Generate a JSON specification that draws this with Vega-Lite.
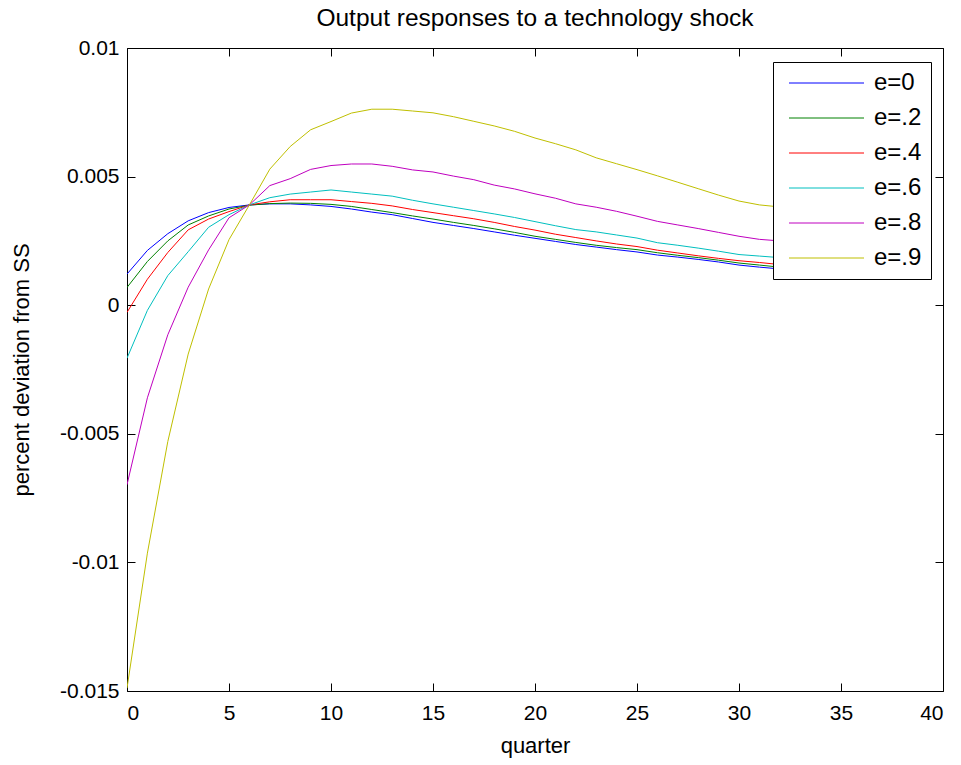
{
  "$schema": "https://vega.github.io/schema/vega-lite/v6.json",
  "width": 816,
  "height": 643,
  "autosize": {"type": "none"},
  "padding": {"left": 127, "top": 48, "right": 18, "bottom": 74},
  "background": "white",
  "config": {
    "font": "Liberation Sans",
    "view": {"stroke": "black", "strokeWidth": 1},
    "axis": {"grid": false, "domain": false, "tickColor": "black", "tickSize": -8, "tickWidth": 1,
      "labelFont": "Liberation Sans", "labelFontSize": 21, "labelColor": "black",
      "titleFont": "Liberation Sans", "titleFontSize": 22, "titleFontWeight": "normal", "titleColor": "black"}
  },
  "title": {"text": "Output responses to a technology shock", "fontSize": 24.5, "fontWeight": "normal", "font": "Liberation Sans", "color": "black", "anchor": "middle", "offset": 6},
  "data": {"values": [
    {"q":0,"y":0.00121,"e":"e=0"},{"q":1,"y":0.00213,"e":"e=0"},{"q":2,"y":0.00278,"e":"e=0"},{"q":3,"y":0.00328,"e":"e=0"},{"q":4,"y":0.00360,"e":"e=0"},{"q":5,"y":0.00380,"e":"e=0"},{"q":6,"y":0.00390,"e":"e=0"},{"q":7,"y":0.00394,"e":"e=0"},{"q":8,"y":0.00394,"e":"e=0"},{"q":9,"y":0.00390,"e":"e=0"},{"q":10,"y":0.00384,"e":"e=0"},{"q":11,"y":0.00374,"e":"e=0"},{"q":12,"y":0.00362,"e":"e=0"},{"q":13,"y":0.00352,"e":"e=0"},{"q":14,"y":0.00337,"e":"e=0"},{"q":15,"y":0.00322,"e":"e=0"},{"q":16,"y":0.00310,"e":"e=0"},{"q":17,"y":0.00298,"e":"e=0"},{"q":18,"y":0.00285,"e":"e=0"},{"q":19,"y":0.00272,"e":"e=0"},{"q":20,"y":0.00260,"e":"e=0"},{"q":21,"y":0.00248,"e":"e=0"},{"q":22,"y":0.00236,"e":"e=0"},{"q":23,"y":0.00226,"e":"e=0"},{"q":24,"y":0.00216,"e":"e=0"},{"q":25,"y":0.00207,"e":"e=0"},{"q":26,"y":0.00195,"e":"e=0"},{"q":27,"y":0.00187,"e":"e=0"},{"q":28,"y":0.00178,"e":"e=0"},{"q":29,"y":0.00168,"e":"e=0"},{"q":30,"y":0.00156,"e":"e=0"},{"q":31,"y":0.00148,"e":"e=0"},{"q":32,"y":0.00141,"e":"e=0"},{"q":33,"y":0.00134,"e":"e=0"},
    {"q":0,"y":0.00069,"e":"e=.2"},{"q":1,"y":0.00170,"e":"e=.2"},{"q":2,"y":0.00250,"e":"e=.2"},{"q":3,"y":0.00312,"e":"e=.2"},{"q":4,"y":0.00347,"e":"e=.2"},{"q":5,"y":0.00374,"e":"e=.2"},{"q":6,"y":0.00389,"e":"e=.2"},{"q":7,"y":0.00395,"e":"e=.2"},{"q":8,"y":0.00397,"e":"e=.2"},{"q":9,"y":0.00396,"e":"e=.2"},{"q":10,"y":0.00392,"e":"e=.2"},{"q":11,"y":0.00384,"e":"e=.2"},{"q":12,"y":0.00372,"e":"e=.2"},{"q":13,"y":0.00360,"e":"e=.2"},{"q":14,"y":0.00347,"e":"e=.2"},{"q":15,"y":0.00335,"e":"e=.2"},{"q":16,"y":0.00322,"e":"e=.2"},{"q":17,"y":0.00310,"e":"e=.2"},{"q":18,"y":0.00297,"e":"e=.2"},{"q":19,"y":0.00283,"e":"e=.2"},{"q":20,"y":0.00268,"e":"e=.2"},{"q":21,"y":0.00256,"e":"e=.2"},{"q":22,"y":0.00244,"e":"e=.2"},{"q":23,"y":0.00233,"e":"e=.2"},{"q":24,"y":0.00224,"e":"e=.2"},{"q":25,"y":0.00216,"e":"e=.2"},{"q":26,"y":0.00204,"e":"e=.2"},{"q":27,"y":0.00194,"e":"e=.2"},{"q":28,"y":0.00185,"e":"e=.2"},{"q":29,"y":0.00175,"e":"e=.2"},{"q":30,"y":0.00164,"e":"e=.2"},{"q":31,"y":0.00156,"e":"e=.2"},{"q":32,"y":0.00148,"e":"e=.2"},{"q":33,"y":0.00141,"e":"e=.2"},
    {"q":0,"y":-0.00028,"e":"e=.4"},{"q":1,"y":0.00101,"e":"e=.4"},{"q":2,"y":0.00205,"e":"e=.4"},{"q":3,"y":0.00293,"e":"e=.4"},{"q":4,"y":0.00335,"e":"e=.4"},{"q":5,"y":0.00364,"e":"e=.4"},{"q":6,"y":0.00390,"e":"e=.4"},{"q":7,"y":0.00402,"e":"e=.4"},{"q":8,"y":0.00410,"e":"e=.4"},{"q":9,"y":0.00410,"e":"e=.4"},{"q":10,"y":0.00410,"e":"e=.4"},{"q":11,"y":0.00403,"e":"e=.4"},{"q":12,"y":0.00396,"e":"e=.4"},{"q":13,"y":0.00386,"e":"e=.4"},{"q":14,"y":0.00372,"e":"e=.4"},{"q":15,"y":0.00360,"e":"e=.4"},{"q":16,"y":0.00348,"e":"e=.4"},{"q":17,"y":0.00336,"e":"e=.4"},{"q":18,"y":0.00322,"e":"e=.4"},{"q":19,"y":0.00306,"e":"e=.4"},{"q":20,"y":0.00292,"e":"e=.4"},{"q":21,"y":0.00276,"e":"e=.4"},{"q":22,"y":0.00263,"e":"e=.4"},{"q":23,"y":0.00250,"e":"e=.4"},{"q":24,"y":0.00238,"e":"e=.4"},{"q":25,"y":0.00228,"e":"e=.4"},{"q":26,"y":0.00214,"e":"e=.4"},{"q":27,"y":0.00203,"e":"e=.4"},{"q":28,"y":0.00192,"e":"e=.4"},{"q":29,"y":0.00182,"e":"e=.4"},{"q":30,"y":0.00173,"e":"e=.4"},{"q":31,"y":0.00166,"e":"e=.4"},{"q":32,"y":0.00158,"e":"e=.4"},{"q":33,"y":0.00150,"e":"e=.4"},
    {"q":0,"y":-0.00206,"e":"e=.6"},{"q":1,"y":-0.00020,"e":"e=.6"},{"q":2,"y":0.00115,"e":"e=.6"},{"q":3,"y":0.00208,"e":"e=.6"},{"q":4,"y":0.00303,"e":"e=.6"},{"q":5,"y":0.00352,"e":"e=.6"},{"q":6,"y":0.00390,"e":"e=.6"},{"q":7,"y":0.00418,"e":"e=.6"},{"q":8,"y":0.00432,"e":"e=.6"},{"q":9,"y":0.00440,"e":"e=.6"},{"q":10,"y":0.00448,"e":"e=.6"},{"q":11,"y":0.00440,"e":"e=.6"},{"q":12,"y":0.00432,"e":"e=.6"},{"q":13,"y":0.00424,"e":"e=.6"},{"q":14,"y":0.00408,"e":"e=.6"},{"q":15,"y":0.00394,"e":"e=.6"},{"q":16,"y":0.00381,"e":"e=.6"},{"q":17,"y":0.00368,"e":"e=.6"},{"q":18,"y":0.00355,"e":"e=.6"},{"q":19,"y":0.00341,"e":"e=.6"},{"q":20,"y":0.00325,"e":"e=.6"},{"q":21,"y":0.00309,"e":"e=.6"},{"q":22,"y":0.00294,"e":"e=.6"},{"q":23,"y":0.00285,"e":"e=.6"},{"q":24,"y":0.00273,"e":"e=.6"},{"q":25,"y":0.00261,"e":"e=.6"},{"q":26,"y":0.00243,"e":"e=.6"},{"q":27,"y":0.00233,"e":"e=.6"},{"q":28,"y":0.00222,"e":"e=.6"},{"q":29,"y":0.00210,"e":"e=.6"},{"q":30,"y":0.00197,"e":"e=.6"},{"q":31,"y":0.00191,"e":"e=.6"},{"q":32,"y":0.00185,"e":"e=.6"},{"q":33,"y":0.00178,"e":"e=.6"},
    {"q":0,"y":-0.00698,"e":"e=.8"},{"q":1,"y":-0.00360,"e":"e=.8"},{"q":2,"y":-0.00115,"e":"e=.8"},{"q":3,"y":0.00070,"e":"e=.8"},{"q":4,"y":0.00215,"e":"e=.8"},{"q":5,"y":0.00340,"e":"e=.8"},{"q":6,"y":0.00390,"e":"e=.8"},{"q":7,"y":0.00465,"e":"e=.8"},{"q":8,"y":0.00492,"e":"e=.8"},{"q":9,"y":0.00528,"e":"e=.8"},{"q":10,"y":0.00543,"e":"e=.8"},{"q":11,"y":0.00549,"e":"e=.8"},{"q":12,"y":0.00549,"e":"e=.8"},{"q":13,"y":0.00540,"e":"e=.8"},{"q":14,"y":0.00526,"e":"e=.8"},{"q":15,"y":0.00518,"e":"e=.8"},{"q":16,"y":0.00502,"e":"e=.8"},{"q":17,"y":0.00488,"e":"e=.8"},{"q":18,"y":0.00467,"e":"e=.8"},{"q":19,"y":0.00452,"e":"e=.8"},{"q":20,"y":0.00433,"e":"e=.8"},{"q":21,"y":0.00416,"e":"e=.8"},{"q":22,"y":0.00394,"e":"e=.8"},{"q":23,"y":0.00381,"e":"e=.8"},{"q":24,"y":0.00365,"e":"e=.8"},{"q":25,"y":0.00346,"e":"e=.8"},{"q":26,"y":0.00326,"e":"e=.8"},{"q":27,"y":0.00312,"e":"e=.8"},{"q":28,"y":0.00298,"e":"e=.8"},{"q":29,"y":0.00283,"e":"e=.8"},{"q":30,"y":0.00268,"e":"e=.8"},{"q":31,"y":0.00256,"e":"e=.8"},{"q":32,"y":0.00250,"e":"e=.8"},{"q":33,"y":0.00243,"e":"e=.8"},
    {"q":0,"y":-0.01489,"e":"e=.9"},{"q":1,"y":-0.00964,"e":"e=.9"},{"q":2,"y":-0.00530,"e":"e=.9"},{"q":3,"y":-0.00190,"e":"e=.9"},{"q":4,"y":0.00063,"e":"e=.9"},{"q":5,"y":0.00255,"e":"e=.9"},{"q":6,"y":0.00390,"e":"e=.9"},{"q":7,"y":0.00529,"e":"e=.9"},{"q":8,"y":0.00617,"e":"e=.9"},{"q":9,"y":0.00682,"e":"e=.9"},{"q":10,"y":0.00714,"e":"e=.9"},{"q":11,"y":0.00747,"e":"e=.9"},{"q":12,"y":0.00762,"e":"e=.9"},{"q":13,"y":0.00762,"e":"e=.9"},{"q":14,"y":0.00755,"e":"e=.9"},{"q":15,"y":0.00748,"e":"e=.9"},{"q":16,"y":0.00733,"e":"e=.9"},{"q":17,"y":0.00715,"e":"e=.9"},{"q":18,"y":0.00697,"e":"e=.9"},{"q":19,"y":0.00676,"e":"e=.9"},{"q":20,"y":0.00650,"e":"e=.9"},{"q":21,"y":0.00628,"e":"e=.9"},{"q":22,"y":0.00604,"e":"e=.9"},{"q":23,"y":0.00573,"e":"e=.9"},{"q":24,"y":0.00550,"e":"e=.9"},{"q":25,"y":0.00527,"e":"e=.9"},{"q":26,"y":0.00503,"e":"e=.9"},{"q":27,"y":0.00478,"e":"e=.9"},{"q":28,"y":0.00453,"e":"e=.9"},{"q":29,"y":0.00428,"e":"e=.9"},{"q":30,"y":0.00405,"e":"e=.9"},{"q":31,"y":0.00390,"e":"e=.9"},{"q":32,"y":0.00382,"e":"e=.9"},{"q":33,"y":0.00375,"e":"e=.9"}
  ]},
  "layer": [
    {
      "mark": {"type": "line", "strokeWidth": 1, "clip": true},
      "encoding": {
        "x": {"field": "q", "type": "quantitative", "scale": {"domain": [0, 40], "nice": false},
          "axis": {"orient": "bottom", "title": "quarter", "values": [0,5,10,15,20,25,30,35,40], "labelPadding": 19, "titlePadding": 12}},
        "y": {"field": "y", "type": "quantitative", "scale": {"domain": [-0.015, 0.01], "nice": false, "zero": false},
          "axis": {"orient": "left", "title": "percent deviation from SS", "values": [-0.015,-0.01,-0.005,0,0.005,0.01], "labelExpr": "'' + datum.value", "labelPadding": 16, "titlePadding": 26}},
        "color": {"field": "e", "type": "nominal",
          "scale": {"domain": ["e=0","e=.2","e=.4","e=.6","e=.8","e=.9"], "range": ["#0000FF","#008000","#FF0000","#00BFBF","#BF00BF","#BFBF00"]},
          "legend": {"title": null, "orient": "none", "legendX": 646, "legendY": 14, "fillColor": "white", "strokeColor": "black", "padding": 9, "symbolOffset": 32.5,
            "symbolType": "M-3.75,0H3.75", "symbolSize": 400, "symbolStrokeWidth": 1, "labelFontSize": 24, "labelFont": "Liberation Sans", "labelColor": "black", "labelOffset": 35.5, "rowPadding": 11}}
      }
    },
    {
      "mark": {"type": "point", "opacity": 0},
      "encoding": {
        "x": {"field": "q", "type": "quantitative", "axis": {"orient": "top", "title": null, "labels": false, "values": [0,5,10,15,20,25,30,35,40]}},
        "y": {"field": "y", "type": "quantitative", "axis": {"orient": "right", "title": null, "labels": false, "values": [-0.015,-0.01,-0.005,0,0.005,0.01]}}
      }
    }
  ],
  "resolve": {"axis": {"x": "independent", "y": "independent"}}
}
